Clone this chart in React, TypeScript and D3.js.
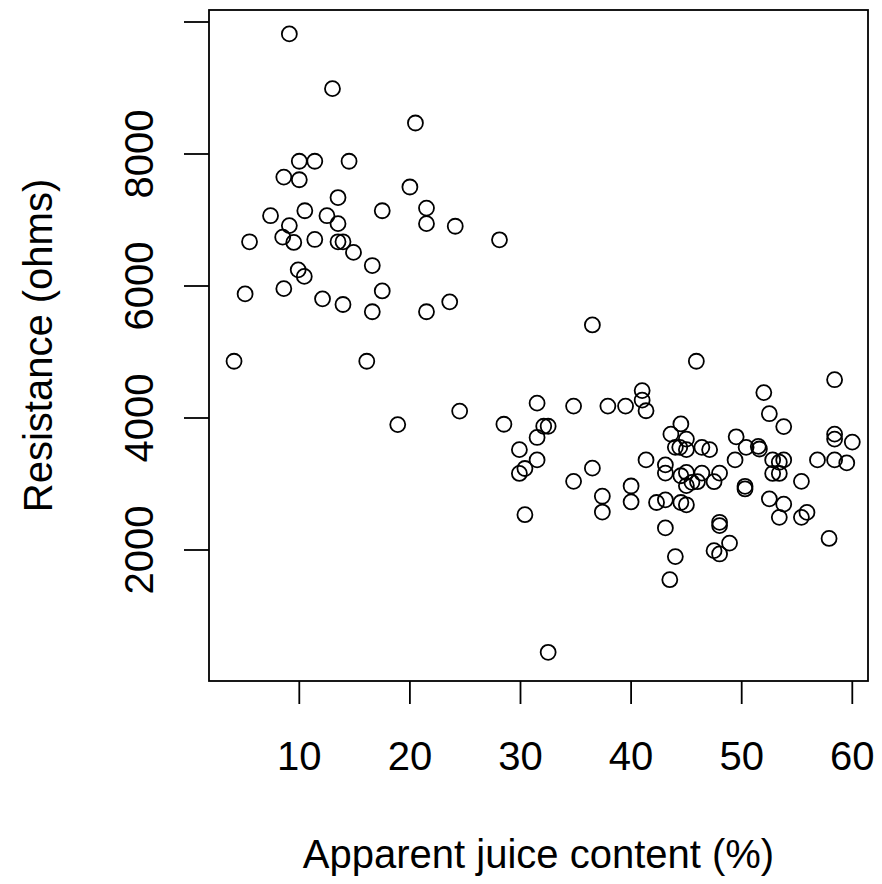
import React from "react";
import * as d3 from "d3";

const juice: number[] = [
  9.1, 13.0, 20.5, 10.0, 11.4, 14.5, 8.6, 10.0, 20.0, 13.5, 7.4, 10.5, 12.5, 13.5, 17.5, 21.5, 21.5, 9.1, 8.5, 9.5,
  5.5, 11.4, 13.5, 13.95, 14.9, 16.6, 9.9, 10.45, 5.1, 8.6, 12.1, 13.95, 17.5, 16.6, 21.5,
  24.1, 28.1, 23.6, 36.5,
  4.1, 16.1, 18.9,
  24.5, 28.5, 31.5, 34.8, 37.9, 39.5, 41.0, 41.0, 41.35, 32.1, 32.5, 31.5, 29.9, 31.5, 30.4, 29.9, 36.5, 34.8, 30.4,
  37.4, 37.4, 40.0, 40.0, 41.35, 32.5,
  45.9, 58.4, 52.0, 52.5, 53.8, 44.5, 43.6, 45.0, 44.0, 44.4, 45.0, 46.4, 47.1, 49.5, 50.4, 51.5, 51.6, 58.4, 58.4,
  60.0, 43.1, 43.1, 44.5, 45.0, 46.4, 48.0, 45.0, 45.5, 46.0, 47.5, 49.4, 50.3, 50.3, 52.8, 53.4, 53.8, 52.8, 53.4,
  55.4, 56.85, 58.4, 59.5, 42.3, 43.1, 44.5, 45.0, 52.5, 53.8, 53.4, 55.4, 55.9, 48.0, 48.0, 43.1, 48.9, 47.5, 48.0,
  57.9, 44.0, 43.5,
];

const ohms: number[] = [
  9820, 8990, 8470, 7890, 7890, 7890, 7650, 7610, 7500, 7340, 7065, 7140, 7065, 6945, 7140, 7180, 6945, 6915, 6740, 6660,
  6670, 6705, 6670, 6670, 6510, 6310, 6245, 6145, 5880, 5960, 5805, 5720, 5925, 5610, 5610,
  6905, 6700, 5760, 5410,
  4860, 4860, 3900,
  4105, 3905, 4225, 4180, 4180, 4180, 4415, 4270, 4110, 3875, 3875, 3705, 3520, 3365, 3235, 3160, 3240, 3040, 2535,
  2815, 2575, 2970, 2730, 3365, 450,
  4860, 4580, 4385, 4065, 3870, 3910, 3755, 3680, 3555, 3555, 3520, 3555, 3520, 3715, 3555, 3570, 3530, 3755, 3680,
  3635, 3290, 3165, 3125, 3175, 3165, 3165, 2975, 3025, 3035, 3035, 3365, 2965, 2925, 3365, 3330, 3365, 3160, 3160,
  3040, 3365, 3365, 3320, 2720, 2760, 2720, 2685, 2775, 2695, 2495, 2495, 2570, 2420, 2370, 2335, 2105, 1990, 1940,
  2175, 1900, 1550,
];

const xTicks: number[] = [10, 20, 30, 40, 50, 60];
const yTicks: number[] = [2000, 4000, 6000, 8000, 10000];
const yTickLabels: string[] = ["2000", "4000", "6000", "8000", ""];

const xTitle = "Apparent juice content (%)";
const yTitle = "Resistance (ohms)";

const W = 882;
const H = 884;
const left = 209;
const right = 868;
const top = 10;
const bottom = 681;
const font = "'Liberation Sans', Arial, Helvetica, sans-serif";

export default function App() {
  const xPx = (v: number) => 299.3 + (v - 10) * 11.06;
  const yPx = (v: number) => 154 + (8000 - v) * 0.066;
  const x = d3
    .scaleLinear()
    .domain([10 + (left - 299.3) / 11.06, 10 + (right - 299.3) / 11.06])
    .range([left, right]);
  const y = d3
    .scaleLinear()
    .domain([8000 - (bottom - 154) / 0.066, 8000 + (154 - top) / 0.066])
    .range([bottom, top]);
  void xPx;
  void yPx;

  const pts = juice.map((j, i) => ({ j, o: ohms[i] }));

  return (
    <div style={{ position: "absolute", left: 0, top: 0 }}>
      <svg width={W} height={H} style={{ display: "block", background: "#fff" }}>
        <rect x={left} y={top} width={right - left} height={bottom - top} fill="none" stroke="#000" strokeWidth={1.8} />
        {xTicks.map((t) => (
          <g key={"x" + t}>
            <line x1={x(t)} x2={x(t)} y1={bottom} y2={bottom + 23} stroke="#000" strokeWidth={1.8} />
            <text x={x(t)} y={770} textAnchor="middle" fontFamily={font} fontSize={40} fill="#000">
              {t}
            </text>
          </g>
        ))}
        {yTicks.map((t, i) => (
          <g key={"y" + t}>
            <line x1={left - 25} x2={left} y1={y(t)} y2={y(t)} stroke="#000" strokeWidth={1.8} />
            {yTickLabels[i] && (
              <text
                x={153}
                y={y(t)}
                transform={`rotate(-90, 153, ${y(t)})`}
                textAnchor="middle"
                fontFamily={font}
                fontSize={40}
                fill="#000"
              >
                {yTickLabels[i]}
              </text>
            )}
          </g>
        ))}
        {pts.map((p, i) => (
          <circle key={i} cx={x(p.j)} cy={y(p.o)} r={7.5} fill="none" stroke="#000" strokeWidth={1.8} />
        ))}
        <text x={(left + right) / 2} y={868} textAnchor="middle" fontFamily={font} fontSize={40} fill="#000">
          {xTitle}
        </text>
        <text
          x={52}
          y={(top + bottom) / 2}
          transform={`rotate(-90, 52, ${(top + bottom) / 2})`}
          textAnchor="middle"
          fontFamily={font}
          fontSize={40}
          fill="#000"
        >
          {yTitle}
        </text>
      </svg>
    </div>
  );
}
